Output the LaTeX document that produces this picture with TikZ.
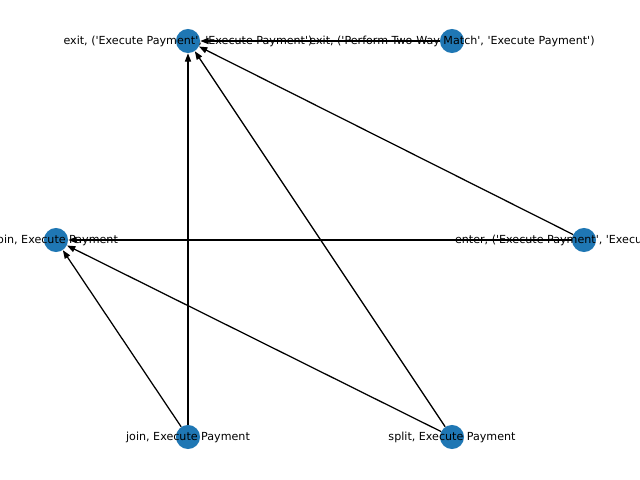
\documentclass[tikz,border=0pt]{standalone}
\usepackage{fontspec}
\newfontfamily\lblfont{DejaVu Sans}
\usetikzlibrary{arrows.meta}
\definecolor{nodeblue}{HTML}{1F77B4}
\tikzset{
  gnode/.style={circle,fill=nodeblue,draw=none,minimum size=17.3pt,inner sep=0pt},
  glabel/.style={font=\lblfont\fontsize{8}{9.6}\selectfont,inner sep=0pt,text=black},
  gedge/.style={draw=black,line width=0.9pt,-{Triangle[length=6pt,width=4.4pt]}}
}
\begin{document}
\begin{tikzpicture}[x=0.72pt,y=-0.72pt]
\useasboundingbox (0,0) rectangle (640,480);
\clip (0,0) rectangle (640,480);
\fill[white] (0,0) rectangle (640,480);
\node[gnode] (A) at (188,41) {};
\node[gnode] (B) at (452,41) {};
\node[gnode] (C) at (56,240) {};
\node[gnode] (D) at (584,240) {};
\node[gnode] (E) at (188,437) {};
\node[gnode] (F) at (452,437) {};
\draw[gedge] (B) -- (A);
\draw[gedge] (D) -- (A);
\draw[gedge] (E) -- (A);
\draw[gedge] (F) -- (A);
\draw[gedge] (D) -- (C);
\draw[gedge] (E) -- (C);
\draw[gedge] (F) -- (C);
\node[glabel] (lA) at (A) {exit, ('Execute Payment', 'Execute Payment')};
\node[glabel] (lB) at (B) {exit, ('Perform Two-Way Match', 'Execute Payment')};
\node[glabel] (lC) at (C) {join, Execute Payment};
\node[glabel] (lD) at (D) {enter, ('Execute Payment', 'Execute Payment')};
\node[glabel] (lE) at (E) {join, Execute Payment};
\node[glabel] (lF) at (F) {split, Execute Payment};
\end{tikzpicture}
\end{document}
